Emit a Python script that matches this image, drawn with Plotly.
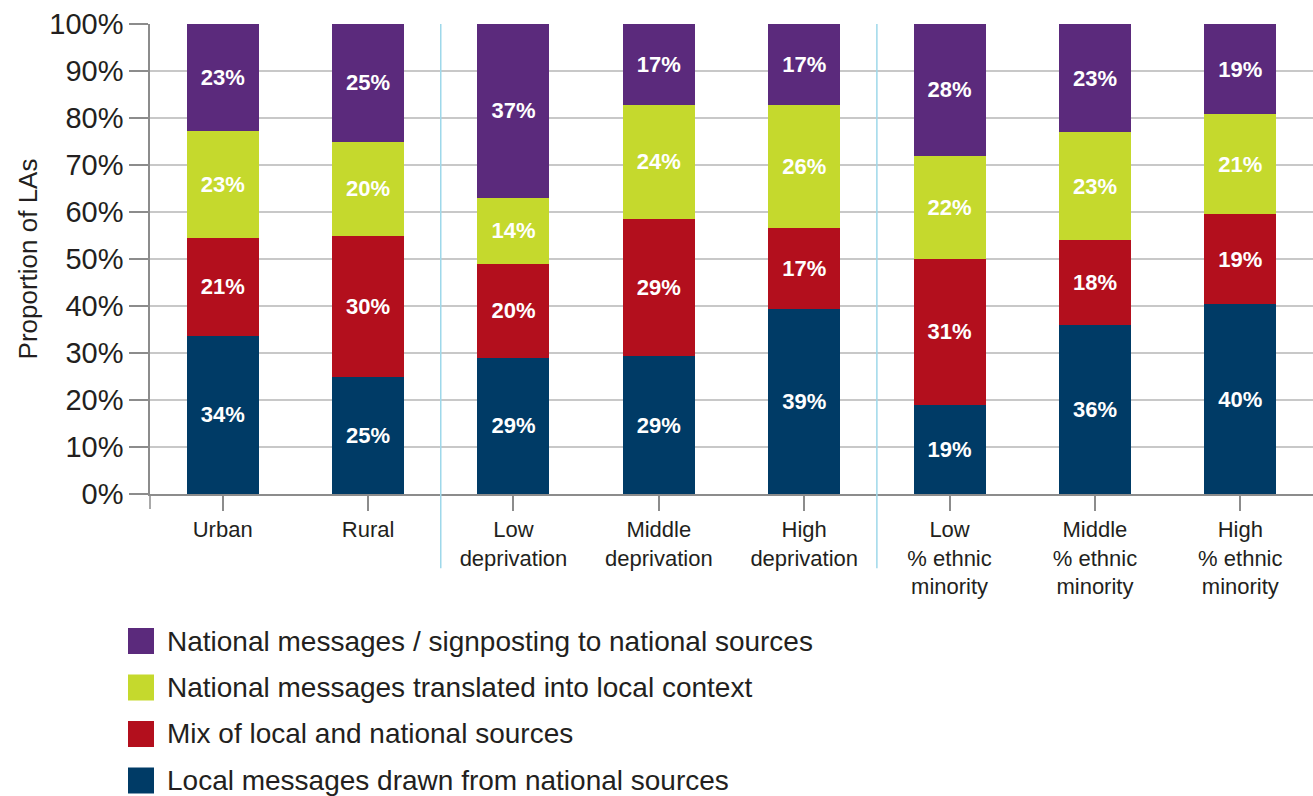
import plotly.graph_objects as go

categories = [
    "Urban", "Rural",
    "Low<br>deprivation", "Middle<br>deprivation", "High<br>deprivation",
    "Low<br>% ethnic<br>minority", "Middle<br>% ethnic<br>minority", "High<br>% ethnic<br>minority",
]

series_names = [
    "Local messages drawn from national sources",
    "Mix of local and national sources",
    "National messages translated into local context",
    "National messages / signposting to national sources",
]
local_from_national = [34, 25, 29, 29, 39, 19, 36, 40]
mix_local_national = [21, 30, 20, 29, 17, 31, 18, 19]
national_translated = [23, 20, 14, 24, 26, 22, 23, 21]
national_signposting = [23, 25, 37, 17, 17, 28, 23, 19]
series_values = [local_from_national, mix_local_national, national_translated, national_signposting]

colors = ["#003B66", "#B30F1D", "#C5D92D", "#5B2A7C"]
y_ticks = [0, 10, 20, 30, 40, 50, 60, 70, 80, 90, 100]

FONT = "Liberation Sans"
TEXT = "#231F20"

fig = go.Figure()
for name, vals, col in zip(series_names, series_values, colors):
    fig.add_trace(go.Bar(
        x=list(range(len(categories))),
        y=vals,
        name=name,
        marker=dict(color=col, line=dict(width=0)),
        text=[f"{v}%" for v in vals],
        textposition="inside",
        insidetextanchor="middle",
        textangle=0,
        textfont=dict(family=FONT, size=22, color="white", weight="bold"),
        showlegend=False,
        hoverinfo="skip",
    ))

fig.update_layout(
    barmode="stack",
    barnorm="percent",
    bargap=0.505,
    width=1313,
    height=796,
    margin=dict(l=150, r=0, t=24, b=302),
    plot_bgcolor="white",
    paper_bgcolor="white",
    font=dict(family=FONT, color=TEXT),
)

fig.update_xaxes(
    tickmode="array",
    tickvals=list(range(len(categories))),
    ticktext=categories,
    range=[-0.5, 7.5],
    showline=True, linecolor="#8C8C8C", linewidth=1.5,
    ticks="outside", ticklen=15, tickcolor="#8C8C8C", tickwidth=1.5,
    tickfont=dict(family=FONT, size=22, color=TEXT),
    showgrid=False, zeroline=False,
)

fig.update_yaxes(
    range=[0, 100],
    tickvals=y_ticks,
    ticktext=[f"{t}%" for t in y_ticks],
    showline=True, linecolor="#8C8C8C", linewidth=1.5,
    ticks="outside", ticklen=19, tickcolor="#8C8C8C", tickwidth=1.5,
    tickfont=dict(family=FONT, size=29, color=TEXT),
    showgrid=True, gridcolor="#C8C8C8", gridwidth=1.5,
    zeroline=False,
    title=dict(text="Proportion of LAs", font=dict(family=FONT, size=26, color=TEXT), standoff=4),
)

# vertical separators between category groups
for xs in [1.5, 4.5]:
    fig.add_shape(type="line", xref="x", yref="paper", x0=xs, x1=xs, y0=1, y1=-0.158,
                  line=dict(color="#9ED8EA", width=1.5), layer="above")

# left axis line continues below the baseline
fig.add_shape(type="line", xref="paper", yref="paper", x0=0, x1=0, y0=0, y1=-0.032,
              line=dict(color="#8C8C8C", width=1.5))

# legend drawn as swatches with labels, top item first
plot_w, plot_h = 1163, 470
for i, idx in enumerate([3, 2, 1, 0]):
    cy = 641 + i * 46.5
    y_c = (494 - cy) / plot_h
    half = 13 / plot_h
    fig.add_shape(type="rect", xref="paper", yref="paper",
                  x0=-22 / plot_w, x1=4 / plot_w, y0=y_c - half, y1=y_c + half,
                  fillcolor=colors[idx], line=dict(width=0))
    fig.add_annotation(xref="paper", yref="paper", x=16 / plot_w, y=y_c,
                       text=series_names[idx], showarrow=False,
                       xanchor="left", yanchor="middle", borderpad=0,
                       font=dict(family=FONT, size=28, color=TEXT))

fig.write_html("out.html")
